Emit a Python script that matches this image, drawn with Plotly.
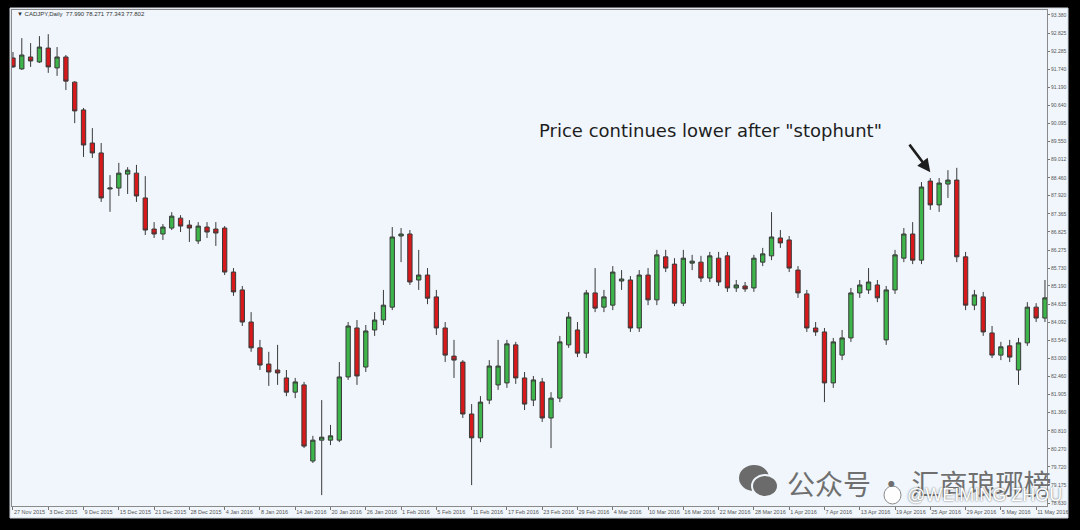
import pandas as pd
import plotly.graph_objects as go

# ---------------- data ----------------
dates = [d.strftime("%Y-%m-%d") for d in pd.bdate_range("2015-11-27", "2016-05-12")
         if d.strftime("%Y-%m-%d") not in ("2015-12-25", "2016-01-01")]

opens = [92.08, 91.75, 92.11, 91.96, 92.38, 91.78, 92.11, 91.35, 90.51, 89.51,
         89.21, 88.12, 88.15, 88.57, 88.60, 87.85, 86.91, 86.76, 86.94, 87.24,
         87.03, 86.55, 86.97, 86.91, 86.94, 85.61, 85.07, 84.10, 83.32, 82.83,
         82.65, 82.41, 81.98, 82.20, 79.90, 80.53, 80.53, 80.53, 82.44, 83.92,
         82.74, 83.86, 84.16, 84.55, 86.70, 86.76, 85.37, 85.52, 84.86, 83.92,
         83.07, 82.89, 81.32, 80.60, 81.74, 82.20, 82.26, 83.41, 82.41, 81.74,
         82.29, 81.20, 81.80, 83.41, 83.86, 83.16, 84.98, 84.55, 84.61, 85.34,
         85.37, 83.92, 85.52, 84.77, 86.07, 85.85, 84.67, 85.88, 85.91, 85.43,
         86.03, 86.10, 85.13, 85.19, 85.13, 85.91, 86.10, 86.64, 86.58, 85.67,
         84.95, 83.92, 83.80, 82.26, 83.10, 83.62, 84.98, 85.07, 85.22, 83.56,
         85.07, 86.03, 86.76, 85.97, 88.36, 87.64, 88.27, 88.39, 86.07, 84.61,
         84.86, 83.77, 83.10, 83.38, 82.65, 83.47, 84.55, 84.22]
highs = [92.26, 92.68, 92.53, 92.74, 92.80, 92.41, 92.17, 91.38, 90.57, 89.96,
         89.51, 88.54, 88.91, 88.78, 88.85, 88.51, 87.12, 87.06, 87.42, 87.33,
         87.18, 87.12, 87.12, 87.12, 87.00, 85.73, 85.19, 84.40, 83.56, 83.20,
         83.41, 82.65, 82.41, 82.29, 80.66, 81.74, 80.99, 82.89, 84.10, 84.16,
         84.01, 84.40, 85.07, 86.97, 86.94, 86.88, 86.28, 85.73, 85.07, 84.10,
         83.56, 82.95, 81.62, 81.86, 82.95, 83.56, 83.56, 83.50, 82.59, 82.47,
         82.41, 81.98, 83.68, 84.40, 84.10, 85.07, 85.73, 85.07, 85.79, 85.67,
         85.49, 85.67, 85.73, 86.28, 86.28, 86.03, 86.28, 86.13, 86.10, 86.22,
         86.22, 86.22, 85.37, 85.31, 86.13, 86.34, 87.42, 86.88, 86.70, 85.79,
         85.07, 84.10, 83.92, 83.62, 83.86, 85.13, 85.37, 85.73, 85.37, 85.19,
         86.28, 86.94, 87.12, 88.33, 88.45, 88.45, 88.69, 88.76, 86.22, 85.07,
         85.01, 83.98, 83.50, 83.56, 83.62, 84.70, 84.67, 85.37]
lows = [91.78, 91.72, 91.81, 91.93, 91.63, 91.54, 91.11, 90.11, 89.09, 89.06,
        87.73, 87.43, 87.91, 87.97, 87.73, 86.73, 86.64, 86.58, 86.88, 86.82,
        86.52, 86.46, 86.64, 86.40, 85.52, 84.89, 83.98, 83.20, 82.65, 82.17,
        82.20, 81.86, 81.80, 80.29, 79.84, 78.87, 80.38, 80.47, 82.35, 82.20,
        82.59, 83.68, 84.01, 84.46, 85.91, 85.22, 85.07, 84.64, 83.71, 82.89,
        82.41, 81.20, 79.17, 80.47, 81.62, 82.05, 82.11, 82.23, 81.44, 81.56,
        81.08, 80.29, 81.68, 83.32, 83.04, 83.01, 84.40, 84.40, 84.46, 85.07,
        83.80, 83.80, 84.61, 84.61, 85.61, 84.58, 84.58, 85.67, 85.31, 85.31,
        85.19, 85.01, 85.01, 85.01, 85.01, 85.79, 85.97, 86.34, 85.61, 84.83,
        83.80, 83.68, 81.68, 82.11, 82.95, 83.50, 84.83, 84.95, 84.70, 83.41,
        84.95, 85.91, 85.85, 85.85, 87.49, 87.43, 87.85, 85.91, 84.46, 84.46,
        83.68, 83.01, 82.95, 82.89, 82.20, 83.38, 84.10, 84.10]
closes = [91.81, 92.17, 91.99, 92.41, 91.81, 92.11, 91.38, 90.48, 89.45, 89.21,
          87.85, 88.15, 88.60, 88.69, 87.91, 86.88, 86.76, 86.97, 87.30, 87.00,
          86.94, 87.00, 86.82, 86.79, 85.61, 85.01, 84.10, 83.32, 82.80, 82.59,
          82.56, 81.98, 82.29, 80.35, 80.53, 80.62, 80.66, 82.44, 83.98, 82.47,
          83.83, 84.16, 84.61, 86.67, 86.76, 85.31, 85.52, 84.82, 83.92, 83.10,
          82.95, 81.32, 80.60, 81.68, 82.77, 82.77, 83.44, 82.41, 81.62, 82.35,
          81.20, 81.80, 83.50, 84.25, 83.16, 84.98, 84.52, 84.86, 85.61, 85.40,
          83.92, 85.52, 84.77, 86.13, 85.73, 84.67, 86.03, 85.94, 85.43, 86.10,
          85.31, 85.13, 85.22, 85.10, 86.03, 86.16, 86.67, 86.49, 85.73, 84.98,
          83.92, 83.80, 82.26, 83.50, 83.62, 84.98, 85.22, 85.31, 84.83, 85.07,
          86.13, 86.76, 85.97, 88.18, 87.64, 88.30, 88.39, 86.07, 84.61, 84.92,
          83.80, 83.10, 83.35, 83.04, 83.47, 84.55, 84.22, 84.83]

price_ticks = ["93.380", "92.825", "92.285", "91.740", "91.190", "90.640", "90.095",
               "89.550", "89.012", "88.460", "87.920", "87.365", "86.825", "86.275",
               "85.730", "85.190", "84.635", "84.092", "83.540", "83.000", "82.460",
               "81.905", "81.360", "80.810", "80.270", "79.720", "79.175", "78.630"]

header = "\u25bc CADJPY,Daily  77.990 78.271 77.343 77.802"
note = 'Price continues lower after "stophunt"'
note_bar = 104
note_price = 88.63
watermark = "公众号 · 汇商琅琊榜"
watermark2 = "@WEIMING ZHOU"

# ---------------- figure ----------------
W, H = 1080, 530
L, R, T, B = 12, 1047, 10, 506
def px(xp):
    return (xp - L) / (R - L)
def py(yp):
    return (B - yp) / (B - T)

bg = "#F0F6FC"
fig = go.Figure()
fig.add_trace(go.Candlestick(
    x=dates, open=opens, high=highs, low=lows, close=closes,
    increasing=dict(fillcolor="#3DB54A", line=dict(color="#3A3A3A", width=1)),
    decreasing=dict(fillcolor="#D7191C", line=dict(color="#3A3A3A", width=1)),
    whiskerwidth=0, showlegend=False, hoverinfo="skip",
))

xt = dates[::4]
xtt = [pd.Timestamp(d).strftime("%-d %b %Y") for d in xt]

fig.update_layout(
    width=W, height=H,
    margin=dict(l=L, r=W - R, t=T, b=H - B, pad=0, autoexpand=False),
    paper_bgcolor="#000000",
    plot_bgcolor=bg,
    font=dict(family="Liberation Sans, Arial, sans-serif", color="#444444", size=6),
    xaxis=dict(type="category", range=[-0.11, 117.23], rangeslider=dict(visible=False),
               tickmode="array", tickvals=xt, ticktext=xtt, ticks="outside", ticklen=3,
               tickcolor="#777", ticklabelposition="outside right", tickangle=0,
               automargin=False,
               showgrid=False, showline=True, linecolor="#8a8a8a", mirror=True,
               tickfont=dict(size=5.5, color="#555")),
    yaxis=dict(side="right", range=[78.54, 93.53], tickmode="array",
               tickvals=[float(t) for t in price_ticks], ticktext=price_ticks,
               ticks="outside", ticklen=2, tickcolor="#777", showgrid=False,
               automargin=False,
               showline=True, linecolor="#8a8a8a", mirror=True,
               tickfont=dict(size=5, color="#555")),
    shapes=[
        dict(type="rect", xref="paper", yref="paper", x0=px(10), x1=px(1068), y0=py(518), y1=py(8),
             fillcolor=bg, line=dict(color="#cfd6dd", width=1), layer="below"),
        # wechat icon
        dict(type="circle", xref="paper", yref="paper", x0=px(739), x1=px(769), y0=py(491), y1=py(465),
             fillcolor="#6b6b6b", line=dict(width=0), layer="above"),
        dict(type="circle", xref="paper", yref="paper", x0=px(752), x1=px(778), y0=py(497), y1=py(475),
             fillcolor="#6b6b6b", line=dict(color=bg, width=2), layer="above"),
        # small round logo before the handle
        dict(type="circle", xref="paper", yref="paper", x0=px(884), x1=px(901), y0=py(504), y1=py(486),
             fillcolor="rgba(255,255,255,0.9)", line=dict(color="#8a8a8a", width=1), layer="above"),
    ],
    annotations=[
        dict(text=header, xref="paper", yref="paper", x=px(15), y=py(14), xanchor="left",
             yanchor="middle", showarrow=False, font=dict(size=6, color="#333")),
        dict(text=note, xref="paper", yref="paper", x=px(710), y=py(131), xanchor="center",
             yanchor="middle", showarrow=False,
             font=dict(family="DejaVu Sans, sans-serif", size=18, color="#1e1e1e")),
        dict(text="", x=dates[note_bar], y=note_price, xref="x", yref="y", showarrow=True,
             ax=-22, ay=-29, arrowhead=2, arrowsize=1, arrowwidth=2.6, arrowcolor="#1e1e1e"),
        dict(text=watermark, xref="paper", yref="paper", x=px(785), y=py(483), xanchor="left",
             yanchor="middle", showarrow=False,
             font=dict(family="Noto Sans CJK SC", size=28, color="#6f6f6f")),
        dict(text=watermark2, xref="paper", yref="paper", x=px(905), y=py(495), xanchor="left",
             yanchor="middle", showarrow=False,
             font=dict(family="Liberation Sans, Arial", size=18, color="#ffffff",
                       shadow="0px 0px 2px #555")),
    ],
)

fig.write_html("out.html", config={"displayModeBar": False},
               post_script="document.body.style.margin='0';document.body.style.background='#000';")
